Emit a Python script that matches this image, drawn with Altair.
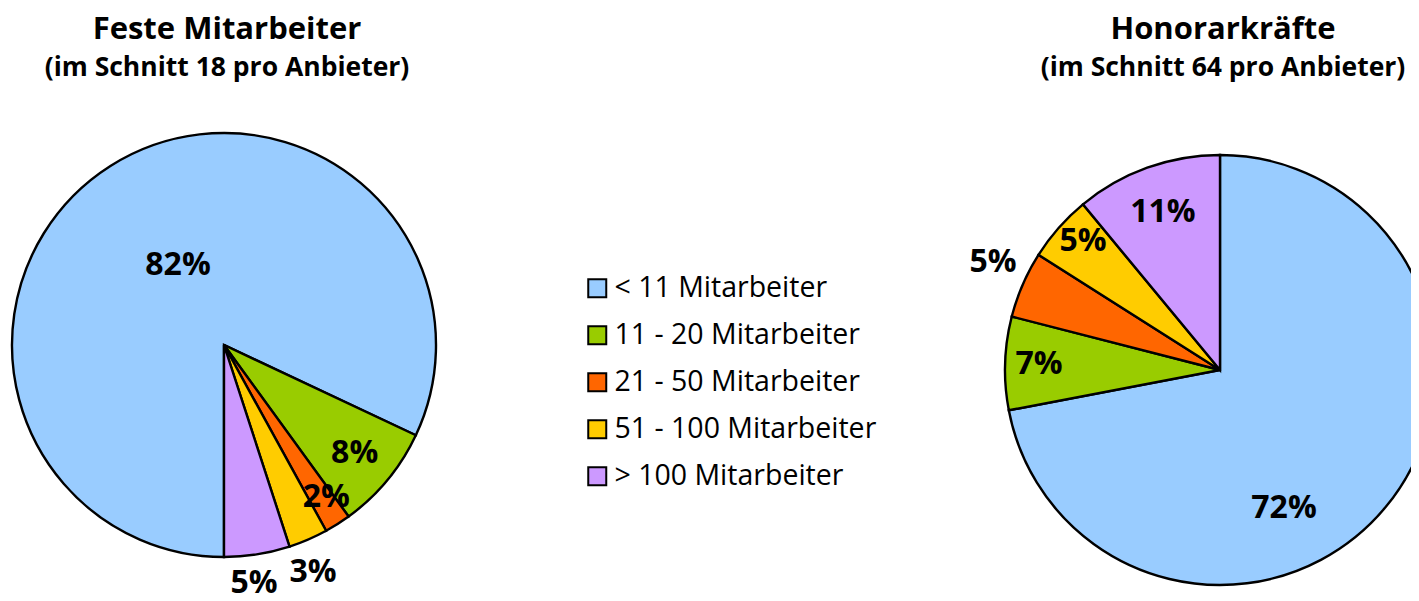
import math
import altair as alt
import pandas as pd

# ---------------- data ----------------
categories = ["< 11 Mitarbeiter", "11 - 20 Mitarbeiter", "21 - 50 Mitarbeiter",
              "51 - 100 Mitarbeiter", "> 100 Mitarbeiter"]
colors = ["#99CCFF", "#99CC00", "#FF6600", "#FFCC00", "#CC99FF"]
feste_values = [82, 8, 2, 3, 5]
honorar_values = [72, 7, 5, 5, 11]
titles_left = ["Feste Mitarbeiter", "(im Schnitt 18 pro Anbieter)"]
titles_right = ["Honorarkräfte", "(im Schnitt 64 pro Anbieter)"]

# label placement (fraction of radius, angular nudge in degrees)
left_label_r = [0.435, 0.80, 0.865, 1.15, 1.13]
left_label_shift = [2.5, 0, -1.5, 2, 1.8]
right_label_r = [0.707, 0.842, 1.169, 0.875, 0.783]
right_label_shift = [25.5, 0, 2, 1.9, 0]

FONT = "Open Sans"
W, H = 1403, 600


def pie(values, start_deg, cx, cy, R, label_r, label_shift, show_legend):
    df = pd.DataFrame({"cat": categories, "value": values, "idx": list(range(len(values)))})
    cum = df["value"].cumsum()
    df["mid"] = (start_deg + (cum - df["value"] / 2) * 3.6 + pd.Series(label_shift)) % 360
    df["lr"] = label_r
    df["label"] = df["value"].astype(str) + "%"
    start = math.radians(start_deg)
    if show_legend:
        legend = alt.Legend(
            title=None, orient="none", legendX=575, legendY=266,
            symbolType="square", symbolSize=324, symbolStrokeColor="black",
            symbolStrokeWidth=2, symbolOpacity=1, labelFont=FONT, labelFontSize=28.5,
            labelColor="black", labelLimit=500, rowPadding=18, labelOffset=3, padding=0,
        )
    else:
        legend = None
    arcs = alt.Chart(df).mark_arc(outerRadius=R, stroke="black", strokeWidth=2.4, opacity=1).encode(
        theta=alt.Theta("value:Q", stack=True,
                        scale=alt.Scale(domain=[0, 100], range=[start, start + 2 * math.pi])),
        color=alt.Color("cat:N", scale=alt.Scale(domain=categories, range=colors),
                        sort=categories, legend=legend),
        order=alt.Order("idx:Q"),
        x=alt.value(cx), y=alt.value(cy),
    )
    labels = alt.Chart(df).mark_text(
        font=FONT, fontSize=32, fontWeight="bold", color="black",
        align="center", baseline="middle",
    ).encode(
        theta=alt.Theta("mid:Q", stack=False,
                        scale=alt.Scale(domain=[0, 360], range=[0, 2 * math.pi])),
        radius=alt.Radius("lr:Q", scale=alt.Scale(type="linear", domain=[0, 1],
                                                  range=[0, R], zero=True)),
        text="label:N",
        x=alt.value(cx), y=alt.value(cy),
    )
    return [arcs, labels]


def titles(lines, cx):
    sizes = [31, 26.5]
    ys = [22, 60]
    out = []
    for i, line in enumerate(lines):
        out.append(
            alt.Chart(pd.DataFrame({"t": [line]})).mark_text(
                font=FONT, fontSize=sizes[i], fontWeight="bold", color="black",
                align="center", baseline="middle",
            ).encode(text="t:N", x=alt.value(cx), y=alt.value(ys[i]))
        )
    return out


layers = []
layers += pie(feste_values, 180, 216, 337, 212, left_label_r, left_label_shift, True)
layers += pie(honorar_values, 0, 1212, 362, 215, right_label_r, right_label_shift, False)
layers += titles(titles_left, 219)
layers += titles(titles_right, 1215)

chart = alt.layer(*layers).resolve_scale(
    theta="independent", radius="independent"
).properties(
    width=W, height=H, padding=0, autosize="none", background="white"
).configure_view(stroke=None)

chart.save("out.html", embed_options={"renderer": "svg", "actions": False})
